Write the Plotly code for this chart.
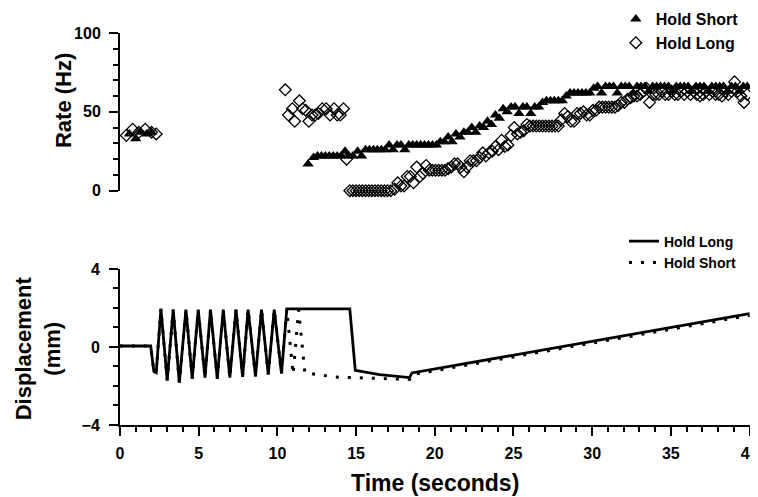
import plotly.graph_objects as go

# --- Rate data (top panel) ---
short_t = [0.6, 1.0, 1.3, 1.7, 2.0,
           11.95, 12.3, 12.55, 12.8, 13.05, 13.3, 13.55, 13.8, 14.05, 14.3,
           14.55, 14.8, 15.1, 15.35, 15.6, 15.85, 16.1, 16.35, 16.6, 16.85,
           17.1, 17.35, 17.6, 17.85, 18.1, 18.35, 18.6, 18.85, 19.1, 19.35,
           19.6, 19.85, 20.1, 20.35, 20.6, 20.85, 21.1, 21.35, 21.6, 21.85,
           22.1, 22.35, 22.6, 22.85, 23.1, 23.35, 23.6, 23.85, 24.1, 24.35,
           24.6, 24.85, 25.1, 25.35, 25.6, 25.85, 26.1, 26.35, 26.6, 26.85,
           27.1, 27.35, 27.6, 27.85, 28.1, 28.35, 28.6, 28.85, 29.1, 29.35,
           29.6, 29.85, 30.1, 30.35, 30.6, 30.85, 31.1, 31.35, 31.6, 31.85,
           32.1, 32.35, 32.6, 32.85, 33.1, 33.35, 33.6, 33.85, 34.1, 34.35,
           34.6, 34.85, 35.1, 35.35, 35.6, 35.85, 36.1, 36.35, 36.6, 36.85,
           37.1, 37.35, 37.6, 37.85, 38.1, 38.35, 38.6, 38.85, 39.1, 39.35,
           39.6, 39.85, 40.2]
short_rate = [36, 33, 37, 36, 37,
              17, 21, 22, 22, 22, 22, 22, 22, 22, 25,
              22, 22, 25, 22, 26, 26, 26, 26, 26, 26,
              29, 26, 29, 29, 26, 29, 29, 29, 29, 29,
              29, 29, 29, 31, 31, 34, 31, 36, 34, 37,
              37, 40, 37, 41, 40, 44, 42, 48, 46, 52,
              50, 53, 53, 49, 53, 53, 49, 53, 53, 56,
              57, 57, 57, 57, 57, 60, 62, 62, 62, 62,
              62, 62, 65, 66, 62, 66, 66, 66, 62, 66,
              66, 66, 62, 66, 66, 66, 63, 66, 66, 66,
              66, 66, 63, 66, 66, 66, 66, 63, 66, 66,
              66, 63, 66, 66, 66, 66, 63, 66, 66, 63,
              66, 66, 53]

long_t = [0.4, 0.8, 1.2, 1.6, 2.0, 2.3,
          10.5, 10.7, 10.95, 11.1, 11.4, 11.6, 11.8, 12.0, 12.2, 12.4,
          12.6, 12.85, 13.1, 13.35, 13.6, 13.8, 14.0, 14.2, 14.4,
          14.6, 14.8, 15.0, 15.2, 15.4, 15.6, 15.8, 16.0, 16.2, 16.4,
          16.6, 16.8, 17.0, 17.2,
          17.45, 17.65, 17.85, 18.05, 18.25, 18.45, 18.65, 18.85, 19.05, 19.25,
          19.45, 19.65, 19.85, 20.05, 20.25, 20.45, 20.65, 20.85, 21.05, 21.25,
          21.45, 21.65, 21.85, 22.05, 22.25, 22.45, 22.65, 22.85, 23.05, 23.25,
          23.45, 23.65, 23.85, 24.05, 24.25, 24.45, 24.65, 24.85, 25.05, 25.25,
          25.45, 25.65, 25.85, 26.05, 26.25, 26.45, 26.65, 26.85, 27.05, 27.25,
          27.45, 27.65, 27.85, 28.05, 28.25, 28.45, 28.65, 28.85, 29.05, 29.25,
          29.45, 29.65, 29.85, 30.05, 30.25, 30.45, 30.65, 30.85, 31.05, 31.25,
          31.45, 31.65, 31.85, 32.05, 32.25, 32.45, 32.65, 32.85, 33.05, 33.25,
          33.45, 33.65, 33.85, 34.05, 34.25, 34.45, 34.65, 34.85, 35.05, 35.25,
          35.45, 35.65, 35.85, 36.05, 36.25, 36.45, 36.65, 36.85, 37.05, 37.25,
          37.45, 37.65, 37.85, 38.05, 38.25, 38.45, 38.65, 38.85, 39.05, 39.25,
          39.45, 39.65, 39.85, 40.1]
long_rate = [35, 39, 37, 39, 37, 36,
             64, 48, 52, 44, 57, 52, 51, 44, 48, 48,
             49, 52, 52, 48, 52, 48, 48, 52, 20,
             0, 0, 0, 0, 0, 0, 0, 0, 0, 0,
             0, 0, 0, 0,
             1, 5, 3, 3, 9, 9, 5, 15, 9, 11,
             16, 13, 13, 13, 13, 13, 13, 14, 15, 17,
             17, 15, 12, 15, 19, 19, 19, 21, 24, 22,
             24, 25, 28, 26, 32, 28, 29, 35, 40, 36,
             37, 38, 42, 41, 41, 41, 41, 41, 41, 41,
             41, 41, 41, 45, 49, 47, 44, 44, 49, 49,
             50, 48, 48, 51, 51, 53, 53, 53, 53, 53,
             53, 54, 56, 56, 58, 59, 60, 60, 61, 63,
             65, 56, 61, 61, 61, 63, 61, 61, 63, 61,
             61, 63, 61, 63, 61, 63, 61, 60, 61, 63,
             61, 63, 61, 61, 60, 63, 61, 63, 69, 63,
             60, 56, 61, 62]

# --- Displacement data (bottom panel) ---
disp_long_t = [0, 1.95, 2.15, 2.3,
               2.6, 3.0, 3.38, 3.77, 4.19, 4.59, 4.97, 5.4, 5.75, 6.18,
               6.56, 6.98, 7.37, 7.79, 8.14, 8.61, 8.99, 9.42, 9.8,
               10.26, 10.6, 14.6, 14.95, 16.5, 18.4, 18.55, 40]
disp_long = [0.05, 0.05, -1.25, -1.32,
             1.95, -1.71, 1.92, -1.83, 1.92, -1.62, 1.92, -1.57, 1.92, -1.62,
             1.92, -1.57, 1.92, -1.53, 1.92, -1.5, 1.92, -1.4, 1.92,
             -1.37, 1.95, 1.95, -1.2, -1.42, -1.57, -1.33, 1.71]

disp_short_t = [0, 1.95, 2.15, 2.3,
                2.6, 3.0, 3.38, 3.77, 4.19, 4.59, 4.97, 5.4, 5.75, 6.18,
                6.56, 6.98, 7.37, 7.79, 8.14, 8.61, 8.99, 9.42, 9.8,
                10.26, 10.6, 11.0, 11.35, 11.75, 12.2, 13.65, 15.1, 17.6,
                18.4, 18.55, 40]
disp_short = [0.05, 0.05, -1.25, -1.32,
              1.95, -1.71, 1.92, -1.83, 1.92, -1.62, 1.92, -1.57, 1.92, -1.62,
              1.92, -1.57, 1.92, -1.53, 1.92, -1.5, 1.92, -1.4, 1.92,
              -1.37, 1.92, -1.4, 1.9, -1.35, -1.37, -1.54, -1.58, -1.66,
              -1.66, -1.42, 1.62]

FONT = "Liberation Sans, Arial, sans-serif"

fig = go.Figure()

# top panel: rate markers
fig.add_trace(go.Scatter(
    x=short_t, y=short_rate, mode="markers", name="Hold Short",
    xaxis="x2", yaxis="y", cliponaxis=False, legend="legend",
    marker=dict(symbol="triangle-up", size=10, color="black"),
))
fig.add_trace(go.Scatter(
    x=long_t, y=long_rate, mode="markers", name="Hold Long",
    xaxis="x2", yaxis="y", cliponaxis=False, legend="legend",
    marker=dict(symbol="diamond-open", size=9, color="black",
                line=dict(width=1.3, color="black")),
))

# bottom panel: displacement traces
fig.add_trace(go.Scatter(
    x=disp_short_t, y=disp_short, mode="lines", name="Hold Short",
    xaxis="x", yaxis="y2", legend="legend2", legendrank=2,
    line=dict(color="black", width=3, dash="3px,9px"),
))
fig.add_trace(go.Scatter(
    x=disp_long_t, y=disp_long, mode="lines", name="Hold Long",
    xaxis="x", yaxis="y2", legend="legend2", legendrank=1,
    line=dict(color="black", width=2.8),
))

axis_common = dict(
    showgrid=False, zeroline=False, showline=True, linecolor="black",
    linewidth=2, ticks="outside", ticklen=9, tickwidth=2, tickcolor="black",
    tickfont=dict(family=FONT, size=16, color="black", weight="bold"),
)

# page body adds an 8px offset, so the figure is 8px smaller each way
fig.update_layout(
    width=750, height=489,
    margin=dict(l=112, r=8, t=25, b=72, autoexpand=False),
    plot_bgcolor="white", paper_bgcolor="white",
    font=dict(family=FONT, color="black"),
    xaxis=dict(range=[0, 40.03], dtick=5, tick0=0, anchor="y2",
               minor=dict(dtick=1, ticks="outside", ticklen=5,
                          tickwidth=1.5, tickcolor="black"),
               ticklabelstandoff=4, ticklabeloverflow="allow",
               **axis_common),
    xaxis2=dict(range=[0, 40.03], matches="x", anchor="y", visible=False),
    yaxis=dict(range=[0, 100], tickvals=[0, 50, 100], domain=[0.5977, 1],
               anchor="x2",
               minor=dict(dtick=10, ticks="outside", ticklen=5,
                          tickwidth=1.5, tickcolor="black"),
               ticklabelstandoff=5, **axis_common),
    yaxis2=dict(range=[-4, 4], tickvals=[-4, 0, 4], domain=[0, 0.398],
                anchor="x",
                minor=dict(dtick=1, ticks="outside", ticklen=5,
                           tickwidth=1.5, tickcolor="black"),
                ticklabelstandoff=6, **axis_common),
    legend=dict(x=0.787, y=1.079, xanchor="left", yanchor="top",
                bgcolor="rgba(0,0,0,0)", tracegroupgap=0,
                font=dict(family=FONT, size=16, color="black", weight="bold")),
    legend2=dict(x=0.80, y=0.5087, xanchor="left", yanchor="top",
                 bgcolor="rgba(0,0,0,0)", tracegroupgap=0,
                 font=dict(family=FONT, size=14, color="black", weight="bold")),
    annotations=[
        dict(text="Rate (Hz)", xref="paper", yref="paper", x=-0.0905, y=0.829,
             xanchor="center", yanchor="middle", textangle=-90, showarrow=False,
             font=dict(family=FONT, size=22, color="black", weight="bold")),
        dict(text="Displacement<br>(mm)", xref="paper", yref="paper",
             x=-0.13, y=0.196, xanchor="center", yanchor="middle",
             textangle=-90, showarrow=False,
             font=dict(family=FONT, size=22, color="black", weight="bold")),
        dict(text="Time (seconds)", xref="paper", yref="paper", x=0.5,
             y=-0.148, xanchor="center", yanchor="middle", showarrow=False,
             font=dict(family=FONT, size=23, color="black", weight="bold")),
    ],
)

fig.write_html("out.html")
